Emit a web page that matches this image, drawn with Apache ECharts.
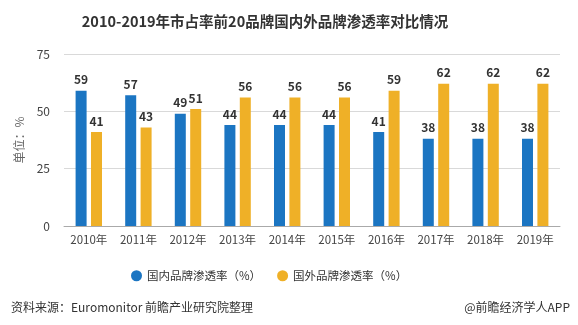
<!DOCTYPE html>
<html><head><meta charset="utf-8">
<script src="https://cdn.jsdelivr.net/npm/echarts@6/dist/echarts.min.js"></script>
<style>html,body{margin:0;padding:0;background:#fff}#c{width:578px;height:325px}</style>
</head><body><div id="c"></div>
<script>
const categories = ['2010年','2011年','2012年','2013年','2014年','2015年','2016年','2017年','2018年','2019年'];
const domestic = [59,57,49,44,44,44,41,38,38,38];
const foreign = [41,43,51,56,56,56,59,62,62,62];
const yTicks = {min:0, max:75, interval:25};
const seriesNames = ['国内品牌渗透率（%）','国外品牌渗透率（%）'];
const chart = echarts.init(document.getElementById('c'));
const ff = '"Microsoft YaHei","Noto Sans CJK SC",sans-serif';
chart.setOption({
  animation:false,
  textStyle:{fontFamily:ff},
  title:[
    {text:'2010-2019年市占率前20品牌国内外品牌渗透率对比情况',left:260,textAlign:'center',top:9,textStyle:{fontSize:14.5,fontWeight:'bold',color:'#333',fontFamily:ff}},
    {text:'资料来源：Euromonitor 前瞻产业研究院整理',left:6,top:296,textStyle:{fontSize:12,fontWeight:'normal',color:'#333',fontFamily:ff}},
    {text:'@前瞻经济学人APP',right:3,top:296,textStyle:{fontSize:12,fontWeight:'normal',color:'#333',fontFamily:ff}}
  ],
  legend:{data:seriesNames,top:265,left:126,icon:'circle',itemWidth:11,itemHeight:11,itemGap:16,textStyle:{fontSize:11.5,color:'#333'}},
  grid:{left:64,right:18,top:54,bottom:99},
  xAxis:{type:'category',data:categories,axisLine:{lineStyle:{color:'#aaa'}},axisTick:{alignWithLabel:true,length:5,lineStyle:{color:'#aaa'}},axisLabel:{interval:0,color:'#444',fontSize:11.5,margin:8}},
  yAxis:{type:'value',min:yTicks.min,max:yTicks.max,interval:yTicks.interval,name:'单位：%',nameLocation:'middle',nameGap:36,nameTextStyle:{color:'#666',fontSize:12},axisLine:{show:false},axisTick:{show:false},axisLabel:{color:'#444',fontSize:12,margin:14},splitLine:{lineStyle:{color:'#d9d9d9'}}},
  series:[
    {name:seriesNames[0],type:'bar',data:domestic,barWidth:11,barGap:'40%',itemStyle:{color:'#1b75c2'},label:{show:true,position:'top',fontWeight:'bold',color:'#333',fontSize:12}},
    {name:seriesNames[1],type:'bar',data:foreign,barWidth:11,itemStyle:{color:'#efb027'},label:{show:true,position:'top',fontWeight:'bold',color:'#333',fontSize:12}}
  ]
});
</script></body></html>
